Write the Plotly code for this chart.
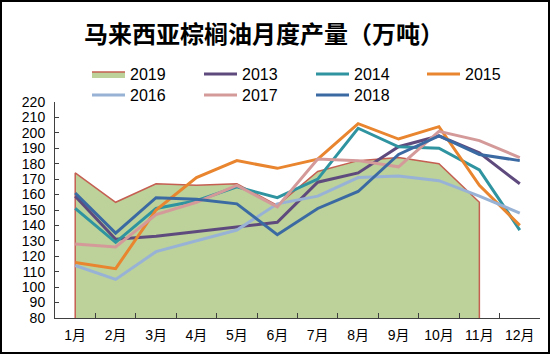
import plotly.graph_objects as go

months = ["1月", "2月", "3月", "4月", "5月", "6月", "7月", "8月", "9月", "10月", "11月", "12月"]
y2019 = [174, 155, 167, 166, 167, 153, 175, 182, 184, 180, 155]
y2013 = [159, 131, 133, 136, 139, 142, 168, 174, 191, 198, 187, 167]
y2014 = [151, 129, 151, 156, 165, 158, 170, 203, 191, 190, 176, 137]
y2015 = [116, 112, 150, 171, 182, 177, 183, 206, 196, 204, 166, 140]
y2016 = [114, 105, 123, 130, 137, 154, 159, 171, 172, 169, 159, 148]
y2017 = [128, 126, 147, 155, 166, 152, 183, 182, 178, 201, 195, 184]
y2018 = [161, 135, 158, 157, 154, 134, 151, 162, 186, 198, 186, 182]
Y_MIN, Y_MAX, Y_STEP = 80, 220, 10

W, H = 550, 354
ML, MR, MT, MB = 55, 10, 102, 36
pw = W - ML - MR
ph = H - MT - MB

# legend slots (pixel x of symbol start, pixel y of row centre)
col_x = [92, 204, 316, 427]
row_y = [74, 95]

fig = go.Figure()

n19 = len(y2019)
fig.add_trace(go.Scatter(
    x=[months[0]] + months[:n19] + [months[n19 - 1]],
    y=[Y_MIN] + y2019 + [Y_MIN],
    name="2019", mode="lines", fill="toself", legend="legend",
    fillcolor="#bcd29a", line=dict(color="#c45f52", width=1.5),
))

series = [
    ("2013", y2013, "#5f4a7e"),
    ("2014", y2014, "#2f94a0"),
    ("2015", y2015, "#e8852e"),
    ("2016", y2016, "#98b2d6"),
    ("2017", y2017, "#d49a9a"),
    ("2018", y2018, "#3b6aa3"),
]
for i, (name, vals, col) in enumerate(series):
    fig.add_trace(go.Scatter(x=months, y=vals, name=name, mode="lines",
                             legend="legend%d" % (i + 2),
                             line=dict(color=col, width=3)))

fig.add_shape(type="rect", xref="paper", yref="paper",
              x0=-(ML - 1) / pw, x1=1 + (MR - 1) / pw,
              y0=-(MB - 1) / ph, y1=1 + (MT - 1) / ph,
              line=dict(color="black", width=2), fillcolor="rgba(0,0,0,0)", layer="above")

legends = {}
for k in range(7):
    r, c = divmod(k, 4)
    key = "legend" if k == 0 else "legend%d" % (k + 1)
    legends[key] = dict(orientation="h", xanchor="left", yanchor="middle",
                        x=(col_x[c] - 5 - ML) / pw, y=1 + (MT - row_y[r]) / ph,
                        font=dict(family="Liberation Sans", size=16, color="black"),
                        bgcolor="rgba(0,0,0,0)", itemwidth=33, borderwidth=0)

fig.update_layout(
    width=W, height=H,
    margin=dict(l=ML, r=MR, t=MT, b=MB),
    paper_bgcolor="white", plot_bgcolor="white",
    title=dict(text="马来西亚棕榈油月度产量（万吨）", xref="container", yref="container",
               x=264 / W, y=1 - 35 / H, xanchor="center", yanchor="middle",
               font=dict(family="Noto Sans CJK SC", size=24, color="black", weight="bold")),
    xaxis=dict(type="category", range=[-0.5, len(months) - 0.5],
               showline=True, linecolor="#404040", linewidth=1,
               ticks="inside", ticklen=5, tickcolor="#404040", tickson="boundaries",
               showgrid=False, zeroline=False, tickangle=0, ticklabelstandoff=4,
               tickfont=dict(family="Liberation Sans, Noto Sans CJK SC", size=14, color="black")),
    yaxis=dict(range=[Y_MIN, Y_MAX], dtick=Y_STEP, tick0=Y_MIN,
               showline=True, linecolor="#404040", linewidth=1,
               ticks="inside", ticklen=4, tickcolor="#404040",
               showgrid=False, zeroline=False, ticklabelstandoff=6,
               tickfont=dict(family="Liberation Sans", size=14, color="black")),
    showlegend=True,
    **legends,
)

fig.write_html("out.html")
